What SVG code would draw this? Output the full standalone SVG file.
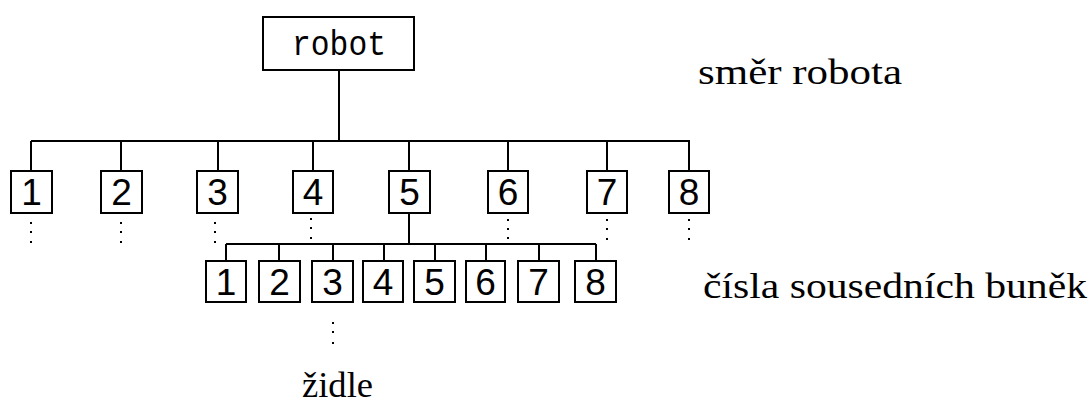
<svg xmlns="http://www.w3.org/2000/svg" width="1092" height="403" viewBox="0 0 1092 403">
<style>
.box{fill:#fff;stroke:#000;stroke-width:2}
.ln{stroke:#000;stroke-width:2;fill:none}
.dg{font-family:"Liberation Sans","DejaVu Sans",sans-serif;font-size:37px;text-anchor:middle;fill:#000}
.lb{font-family:"Liberation Serif","DejaVu Serif",serif;font-size:36px;fill:#000}
.rb{font-family:"Liberation Mono","DejaVu Sans Mono",monospace;font-size:35px;text-anchor:middle;fill:#000}
.dot{fill:#000}
</style>
<rect width="1092" height="403" fill="#fff"/>
<g id="connectors">
<path class="ln" d="M339 71V141M31 141H690M31 141V171M121 141V171M218 141V171M313 141V171M409 141V171M508 141V171M607 141V171M689 141V171"/>
<path class="ln" d="M409 213V244M226 244H596M226 244V261M279 244V261M333 244V261M384 244V261M435 244V261M486 244V261M539 244V261M596 244V261"/>
</g>
<g id="robot"><rect class="box" x="263" y="17" width="151" height="53"/><text class="rb" x="339" y="55" textLength="94" lengthAdjust="spacingAndGlyphs">robot</text></g>
<g id="n1"><rect class="box" x="11" y="171" width="41" height="42"/><text class="dg" x="31.5" y="205">1</text></g>
<g id="n2"><rect class="box" x="101" y="171" width="41" height="42"/><text class="dg" x="121.5" y="205">2</text></g>
<g id="n3"><rect class="box" x="197" y="171" width="41" height="42"/><text class="dg" x="217.5" y="205">3</text></g>
<g id="n4"><rect class="box" x="293" y="171" width="40" height="42"/><text class="dg" x="313" y="205">4</text></g>
<g id="n5"><rect class="box" x="389" y="171" width="41" height="42"/><text class="dg" x="409.5" y="205">5</text></g>
<g id="n6"><rect class="box" x="488" y="171" width="40" height="42"/><text class="dg" x="508" y="205">6</text></g>
<g id="n7"><rect class="box" x="587" y="171" width="40" height="42"/><text class="dg" x="607" y="205">7</text></g>
<g id="n8"><rect class="box" x="669" y="171" width="40" height="42"/><text class="dg" x="689" y="205">8</text></g>
<g id="s1"><rect class="box" x="206" y="261" width="40" height="41"/><text class="dg" x="226" y="295">1</text></g>
<g id="s2"><rect class="box" x="259" y="261" width="41" height="41"/><text class="dg" x="279.5" y="295">2</text></g>
<g id="s3"><rect class="box" x="312" y="261" width="41" height="41"/><text class="dg" x="332.5" y="295">3</text></g>
<g id="s4"><rect class="box" x="363" y="261" width="40" height="41"/><text class="dg" x="383" y="295">4</text></g>
<g id="s5"><rect class="box" x="414" y="261" width="41" height="41"/><text class="dg" x="434.5" y="295">5</text></g>
<g id="s6"><rect class="box" x="466" y="261" width="39" height="41"/><text class="dg" x="485.5" y="295">6</text></g>
<g id="s7"><rect class="box" x="518" y="261" width="41" height="41"/><text class="dg" x="538.5" y="295">7</text></g>
<g id="s8"><rect class="box" x="575" y="261" width="41" height="41"/><text class="dg" x="595.5" y="295">8</text></g>
<g id="dots">
<rect class="dot" x="30" y="222" width="2" height="2"/><rect class="dot" x="30" y="231" width="2" height="2"/><rect class="dot" x="30" y="241" width="2" height="2"/>
<rect class="dot" x="120" y="222" width="2" height="2"/><rect class="dot" x="120" y="231" width="2" height="2"/><rect class="dot" x="120" y="241" width="2" height="2"/>
<rect class="dot" x="214" y="222" width="2" height="2"/><rect class="dot" x="214" y="231" width="2" height="2"/><rect class="dot" x="214" y="241" width="2" height="2"/>
<rect class="dot" x="310" y="218" width="2" height="2"/><rect class="dot" x="310" y="227" width="2" height="2"/><rect class="dot" x="310" y="237" width="2" height="2"/>
<rect class="dot" x="507" y="219" width="2" height="2"/><rect class="dot" x="507" y="228" width="2" height="2"/><rect class="dot" x="507" y="237" width="2" height="2"/>
<rect class="dot" x="606" y="219" width="2" height="2"/><rect class="dot" x="606" y="228" width="2" height="2"/><rect class="dot" x="606" y="238" width="2" height="2"/>
<rect class="dot" x="688" y="219" width="2" height="2"/><rect class="dot" x="688" y="228" width="2" height="2"/><rect class="dot" x="688" y="238" width="2" height="2"/>
<rect class="dot" x="332" y="322" width="2" height="2"/><rect class="dot" x="332" y="331" width="2" height="2"/><rect class="dot" x="332" y="342" width="2" height="2"/>
</g>
<g id="labels">
<text class="lb" x="698" y="84" textLength="204" lengthAdjust="spacingAndGlyphs">směr robota</text>
<text class="lb" x="703" y="298" textLength="384" lengthAdjust="spacingAndGlyphs">čísla sousedních buněk</text>
<text class="lb" x="302" y="397" textLength="71" lengthAdjust="spacingAndGlyphs">židle</text>
</g>
</svg>
